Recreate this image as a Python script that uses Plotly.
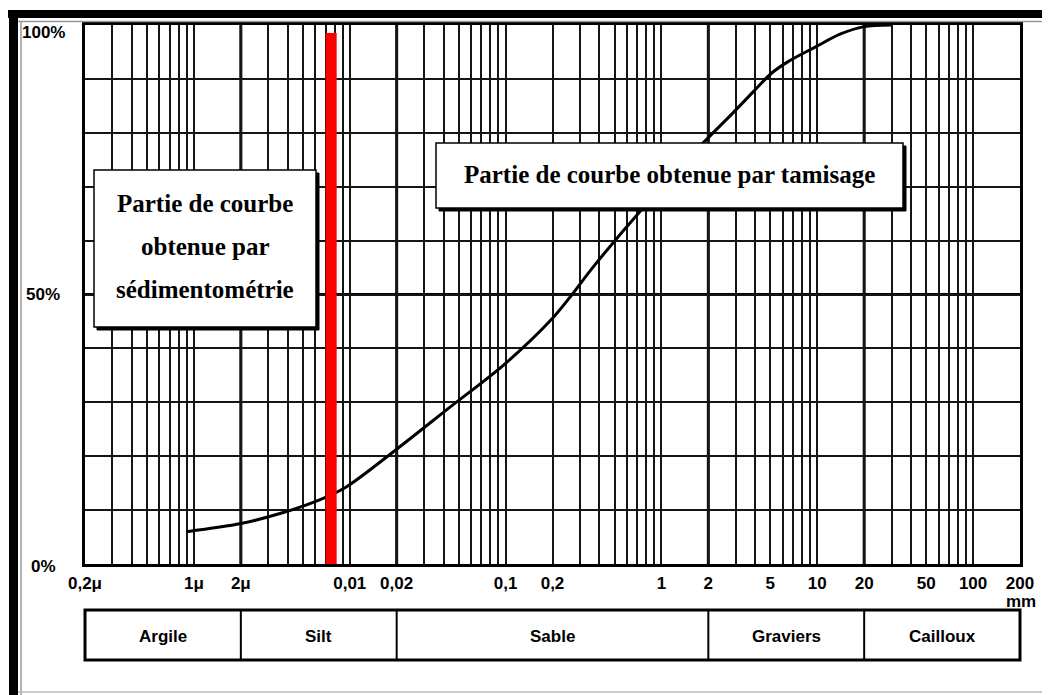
import math
import plotly.graph_objects as go

# ---------------- data ----------------
diam_mm = [0.0009, 0.002, 0.0037, 0.0064, 0.0095, 0.02, 0.044, 0.097, 0.2, 0.267,
           0.36, 0.76, 1.85, 2.88, 3.88, 5.06, 6.5, 9.7, 14.0, 20, 30]
passing_pct = [6.0, 7.5, 9.5, 11.9, 14.3, 21.3, 29.1, 36.9, 45.6, 50.0,
               54.9, 66.0, 78.1, 83.7, 87.6, 91.0, 93.2, 95.9, 98.3, 99.7, 100.0]

sedim_limit_mm = 0.0076
sedim_limit_top = 98.5

tick_values = [0.0002, 0.001, 0.002, 0.01, 0.02, 0.1, 0.2, 1, 2, 5, 10, 20, 50, 100, 200]
tick_labels = ['0,2μ', '1μ', '2μ', '0,01', '0,02', '0,1', '0,2', '1', '2', '5', '10',
               '20', '50', '100', '200']

class_names = ['Argile', 'Silt', 'Sable', 'Graviers', 'Cailloux']
class_bounds = [0.0002, 0.002, 0.02, 2, 20, 200]

y_labels = ['0%', '50%', '100%']
y_label_values = [0, 50, 100]

box_left_lines = ['Partie de courbe', 'obtenue par', 'sédimentométrie']
box_right_text = 'Partie de courbe obtenue par tamisage'

# ---------------- geometry helpers ----------------
# page body has an 8px margin; coordinates below are in screenshot pixels
OFF = 8
W, H = 1050 - OFF, 695 - OFF
L, R, T, B = 85, 1020, 25, 564   # plot area in screenshot pixels


def px(x):
    return (x - L) / (R - L)


def py(y):
    return (B - y) / (B - T)


# grid positions (2..10 in each decade, none between 1 and 2, none 100-200)
grid_vals = []
for base in [0.0001, 0.001, 0.01, 0.1, 1, 10]:
    for m in range(2, 11):
        grid_vals.append(round(base * m, 6))
grid_vals = sorted(set(grid_vals + [0.0002, 200]))

label_map = {round(v, 6): t for v, t in zip(tick_values, tick_labels)}
grid_text = [label_map.get(round(v, 6), '') for v in grid_vals]

sans = "Liberation Sans, Arial, sans-serif"
serif = "Liberation Serif, Times New Roman, serif"
sfont = dict(family=sans, size=17, color='black', weight='bold')

fig = go.Figure()

fig.add_trace(go.Scatter(
    x=diam_mm, y=passing_pct, mode='lines',
    line=dict(color='black', width=3, shape='spline', smoothing=0.9),
    hoverinfo='skip', showlegend=False))

fig.add_trace(go.Scatter(
    x=[sedim_limit_mm, sedim_limit_mm], y=[0, sedim_limit_top], mode='lines',
    line=dict(color='#ff0000', width=11),
    hoverinfo='skip', showlegend=False))

shapes = []
# thick class-boundary verticals
for b in class_bounds[1:-1]:
    shapes.append(dict(type='line', xref='x', yref='paper', x0=b, x1=b, y0=0, y1=1,
                       line=dict(color='black', width=3), layer='below'))
# thick 50% line
shapes.append(dict(type='line', xref='paper', yref='y', x0=0, x1=1, y0=50, y1=50,
                   line=dict(color='black', width=3), layer='below'))


def add_box(x0, y0, x1, y1):
    shapes.append(dict(type='rect', xref='paper', yref='paper',
                       x0=px(x0 + 3), x1=px(x1 + 3), y0=py(y1 + 3), y1=py(y0 + 3),
                       line=dict(color='black', width=1), fillcolor='black', layer='above'))
    shapes.append(dict(type='rect', xref='paper', yref='paper',
                       x0=px(x0), x1=px(x1), y0=py(y1), y1=py(y0),
                       line=dict(color='black', width=1.5), fillcolor='white', layer='above'))


add_box(94, 170, 316, 327)
add_box(436, 143, 903, 208)

# class table
t_top, t_bot = 610, 660
shapes.append(dict(type='rect', xref='paper', yref='paper', x0=0, x1=1,
                   y0=py(t_bot), y1=py(t_top), line=dict(color='black', width=3),
                   fillcolor='rgba(0,0,0,0)', layer='above'))
for b in class_bounds[1:-1]:
    shapes.append(dict(type='line', xref='x', yref='paper', x0=b, x1=b,
                       y0=py(t_bot), y1=py(t_top), line=dict(color='black', width=2),
                       layer='above'))

# outer frame of picture
shapes.append(dict(type='rect', xref='paper', yref='paper', x0=px(8), x1=px(1060),
                   y0=py(18), y1=py(10), line=dict(width=0), fillcolor='black', layer='above'))
shapes.append(dict(type='rect', xref='paper', yref='paper', x0=px(9), x1=px(18),
                   y0=py(705), y1=py(10), line=dict(width=0), fillcolor='black', layer='above'))
shapes.append(dict(type='line', xref='paper', yref='paper', x0=px(18), x1=px(1060),
                   y0=py(21.5), y1=py(21.5), line=dict(color='#999999', width=1.5), layer='above'))
shapes.append(dict(type='line', xref='paper', yref='paper', x0=px(21), x1=px(21),
                   y0=py(705), y1=py(21), line=dict(color='#999999', width=1.5), layer='above'))
shapes.append(dict(type='line', xref='paper', yref='paper', x0=px(18), x1=px(1060),
                   y0=py(692), y1=py(692), line=dict(color='#bbbbbb', width=1.5), layer='above'))

annotations = []
y_label_px = {0: 566, 50: 294, 100: 32}
for t, v in zip(y_labels, y_label_values):
    annotations.append(dict(text=t, xref='paper', yref='paper', x=px(43), y=py(y_label_px[v]),
                            xanchor='center', yanchor='middle', showarrow=False, font=sfont))
annotations.append(dict(text='mm', xref='paper', yref='paper', x=px(1038), y=py(601),
                        xanchor='right', yanchor='middle', showarrow=False, font=sfont))
for i, name in enumerate(class_names):
    xm = (math.log10(class_bounds[i]) + math.log10(class_bounds[i + 1])) / 2
    annotations.append(dict(text=name, xref='x', yref='paper', x=xm, y=py(636),
                            xanchor='center', yanchor='middle', showarrow=False, font=sfont))
for line_txt, ypx in zip(box_left_lines, [203, 246, 289]):
    annotations.append(dict(text=line_txt, xref='paper', yref='paper', x=px(205), y=py(ypx),
                            xanchor='center', yanchor='middle', showarrow=False,
                            font=dict(family=serif, size=25, color='black', weight='bold')))
annotations.append(dict(text=box_right_text, xref='paper', yref='paper', x=px(669), y=py(175),
                        xanchor='center', yanchor='middle', showarrow=False,
                        font=dict(family=serif, size=25, color='black', weight='bold')))

fig.update_layout(
    width=W, height=H,
    margin=dict(l=L - OFF, r=W - (R - OFF), t=T - OFF, b=H - (B - OFF), pad=0),
    paper_bgcolor='white', plot_bgcolor='white',
    shapes=shapes, annotations=annotations,
    showlegend=False,
    xaxis=dict(type='log', range=[math.log10(0.0002), math.log10(200)],
               tickmode='array', tickvals=grid_vals, ticktext=grid_text,
               showgrid=True, gridcolor='#151515', gridwidth=1.5,
               showline=True, linecolor='black', linewidth=3, mirror=True,
               ticks='', ticklabelstandoff=2, tickfont=sfont,
               zeroline=False, fixedrange=True),
    yaxis=dict(range=[0, 100], tickmode='linear', tick0=0, dtick=10,
               showgrid=True, gridcolor='#151515', gridwidth=1.5,
               showline=True, linecolor='black', linewidth=3, mirror=True,
               showticklabels=False, ticks='', zeroline=False, fixedrange=True),
)

fig.write_html("out.html")
